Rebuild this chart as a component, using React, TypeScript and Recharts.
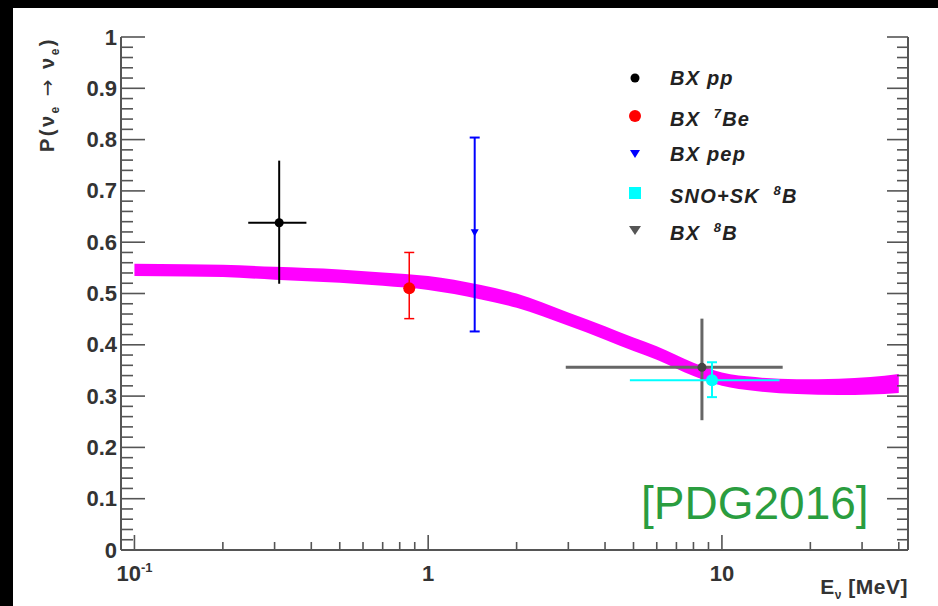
import React from 'react';
import { ComposedChart, Area, Scatter, XAxis, YAxis, ErrorBar } from 'recharts';

// MSW band: survival probability vs neutrino energy
const bandEnergy = [0.1, 0.15, 0.2, 0.3, 0.5, 0.7, 1, 1.5, 2, 3, 4, 5, 6, 8, 10, 13, 18, 25, 32, 40];
const bandLow = [0.534, 0.533, 0.532, 0.527, 0.521, 0.515, 0.507, 0.489, 0.472, 0.437, 0.410, 0.388, 0.371, 0.339, 0.320, 0.310, 0.304, 0.302, 0.303, 0.306];
const bandHigh = [0.558, 0.557, 0.556, 0.552, 0.547, 0.541, 0.534, 0.517, 0.500, 0.463, 0.436, 0.414, 0.397, 0.365, 0.346, 0.337, 0.333, 0.334, 0.337, 0.343];

// measurements: energy, probability, [minus, plus] errors
const ppData = [{ e: 0.311, p: 0.638, eErr: [0.067, 0.074], pErr: [0.119, 0.121] }];
const be7Data = [{ e: 0.862, p: 0.51, pErr: [0.059, 0.07] }];
const pepData = [{ e: 1.44, p: 0.619, pErr: [0.193, 0.185] }];
const b8Data = [{ e: 8.55, p: 0.356, eErr: [5.61, 7.55], pErr: [0.103, 0.095] }];
const snoData = [{ e: 9.25, p: 0.331, eErr: [4.39, 6.45], pErr: [0.033, 0.035] }];

const yMajorTicks = [0, 0.1, 0.2, 0.3, 0.4, 0.5, 0.6, 0.7, 0.8, 0.9, 1];
const yLabels = ['0', '0.1', '0.2', '0.3', '0.4', '0.5', '0.6', '0.7', '0.8', '0.9', '1'];
const yTicks = Array.from({ length: 51 }, (_, i) => Math.round(i * 2) / 100);
const xTicks = [0.1, 0.2, 0.3, 0.4, 0.5, 0.6, 0.7, 0.8, 0.9, 1, 2, 3, 4, 5, 6, 7, 8, 9, 10, 20, 30, 40];
const xMajorTicks = [0.1, 1, 10];

const axisColor = '#555';
const font = '"Liberation Sans", Arial, Helvetica, sans-serif';

const yIndex = (v: number) => yMajorTicks.findIndex((t) => Math.abs(t - v) < 1e-6);
const isXMajor = (v: number) => xMajorTicks.some((t) => Math.abs(t - v) < 1e-9);

const LeftTick = (props: any) => {
  const { x, y, payload } = props;
  const idx = yIndex(payload.value);
  return (
    <g>
      <line x1={x} y1={y} x2={x + (idx >= 0 ? 24 : 12)} y2={y} stroke={axisColor} strokeWidth={1.6} />
      {idx >= 0 && (
        <text x={x - 4} y={y} dy={7.5} textAnchor="end" fontSize={22} fontWeight="bold" fill="#333" fontFamily={font}>
          {yLabels[idx]}
        </text>
      )}
    </g>
  );
};

const RightTick = (props: any) => {
  const { x, y, payload } = props;
  const major = yIndex(payload.value) >= 0;
  return <line x1={x} y1={y} x2={x - (major ? 21 : 11)} y2={y} stroke={axisColor} strokeWidth={1.6} />;
};

const BottomTick = (props: any) => {
  const { x, y, payload } = props;
  const v = payload.value;
  const major = isXMajor(v);
  return (
    <g>
      <line x1={x} y1={y} x2={x} y2={y - (major ? 15 : 8)} stroke={axisColor} strokeWidth={1.6} />
      {major && (
        <text x={x} y={y + 31} textAnchor="middle" fontSize={22} fontWeight="bold" fill="#333" fontFamily={font}>
          {v === 0.1 ? (
            <>
              10<tspan fontSize={13} dy={-9}>-1</tspan>
            </>
          ) : (
            String(v)
          )}
        </text>
      )}
    </g>
  );
};

const TopTick = (props: any) => {
  const { x, y, payload } = props;
  const major = isXMajor(payload.value);
  return <line x1={x} y1={y} x2={x} y2={y + (major ? 15 : 8)} stroke={axisColor} strokeWidth={1.6} />;
};

const dot = (r: number, fill: string) => (p: any) => <circle cx={p.cx} cy={p.cy} r={r} fill={fill} />;
const triDown = (s: number, fill: string) => (p: any) => (
  <polygon points={`${p.cx - s},${p.cy - s * 0.8} ${p.cx + s},${p.cy - s * 0.8} ${p.cx},${p.cy + s}`} fill={fill} />
);
const hidden = () => <g />;

const supStyle = { fontSize: 13 };
const legendItems = [
  { key: 'pp', label: <>BX pp</>, marker: <circle cx={11} cy={11} r={4.5} fill="#000" /> },
  { key: 'be', label: <>BX&nbsp;&nbsp;<sup style={supStyle}>7</sup>Be</>, marker: <circle cx={11} cy={11} r={6} fill="#f00" /> },
  { key: 'pep', label: <>BX pep</>, marker: <polygon points="6,7 16,7 11,15" fill="#00f" /> },
  { key: 'sno', label: <>SNO+SK&nbsp;&nbsp;<sup style={supStyle}>8</sup>B</>, marker: <rect x={5} y={5} width={12} height={12} fill="#0ff" /> },
  { key: 'b8', label: <>BX&nbsp;&nbsp;<sup style={supStyle}>8</sup>B</>, marker: <polygon points="5,7 17,7 11,16" fill="#555" /> },
];
const legendRows = [78, 116, 154, 193, 230];

export default function App() {
  const bandData = bandEnergy.map((e, i) => ({ e, low: bandLow[i], high: bandHigh[i] }));

  return (
    <div style={{ position: 'absolute', left: 0, top: 0, width: 938, height: 606, background: '#000', fontFamily: font }}>
      <div style={{ position: 'absolute', left: 13, top: 8, width: 925, height: 598, background: '#fff' }} />
      <div style={{ position: 'absolute', left: 0, top: 0 }}>
        <ComposedChart width={938} height={606} data={bandData} margin={{ top: 37, right: 0, bottom: 0, left: 0 }}>
          <XAxis
            xAxisId="bottom"
            dataKey="e"
            type="number"
            scale="log"
            domain={[0.09, 43]}
            allowDataOverflow
            ticks={xTicks}
            interval={0}
            height={56}
            tickSize={0}
            tickMargin={0}
            tickLine={false}
            tick={<BottomTick />}
            axisLine={{ stroke: axisColor, strokeWidth: 2 }}
          />
          <XAxis
            xAxisId="top"
            dataKey="e"
            orientation="top"
            type="number"
            scale="log"
            domain={[0.09, 43]}
            allowDataOverflow
            ticks={xTicks}
            interval={0}
            height={0}
            tickSize={0}
            tickMargin={0}
            tickLine={false}
            tick={<TopTick />}
            axisLine={{ stroke: axisColor, strokeWidth: 2 }}
          />
          <YAxis
            yAxisId="left"
            dataKey="p"
            type="number"
            domain={[0, 1]}
            ticks={yTicks}
            interval={0}
            width={121}
            tickSize={0}
            tickMargin={0}
            tickLine={false}
            tick={<LeftTick />}
            axisLine={{ stroke: axisColor, strokeWidth: 2 }}
          />
          <YAxis
            yAxisId="right"
            dataKey="p"
            orientation="right"
            type="number"
            domain={[0, 1]}
            ticks={yTicks}
            interval={0}
            width={30}
            tickSize={0}
            tickMargin={0}
            tickLine={false}
            tick={<RightTick />}
            axisLine={{ stroke: axisColor, strokeWidth: 2 }}
          />
          <Area
            xAxisId="bottom"
            yAxisId="left"
            dataKey={(d: any) => [d.low, d.high]}
            type="monotone"
            stroke="none"
            fill="#ff00ff"
            fillOpacity={1}
            isAnimationActive={false}
            activeDot={false}
          />
          {/* invisible series so the mirrored frame axes get their ticks */}
          <Scatter data={ppData} xAxisId="top" yAxisId="right" shape={hidden} isAnimationActive={false} />
          <Scatter data={ppData} xAxisId="bottom" yAxisId="left" shape={dot(4.5, '#000')} isAnimationActive={false}>
            <ErrorBar dataKey="pErr" direction="y" width={0} stroke="#000" strokeWidth={2} />
            <ErrorBar dataKey="eErr" direction="x" width={0} stroke="#000" strokeWidth={2} />
          </Scatter>
          <Scatter data={be7Data} xAxisId="bottom" yAxisId="left" shape={dot(6, '#f00')} isAnimationActive={false}>
            <ErrorBar dataKey="pErr" direction="y" width={5} stroke="#f00" strokeWidth={1.5} />
          </Scatter>
          <Scatter data={pepData} xAxisId="bottom" yAxisId="left" shape={triDown(4, '#00f')} isAnimationActive={false}>
            <ErrorBar dataKey="pErr" direction="y" width={5} stroke="#00f" strokeWidth={2} />
          </Scatter>
          <Scatter data={b8Data} xAxisId="bottom" yAxisId="left" shape={dot(4.5, '#444')} isAnimationActive={false}>
            <ErrorBar dataKey="pErr" direction="y" width={0} stroke="#666" strokeWidth={3} />
            <ErrorBar dataKey="eErr" direction="x" width={0} stroke="#666" strokeWidth={3} />
          </Scatter>
          <Scatter data={snoData} xAxisId="bottom" yAxisId="left" shape={dot(6, '#0ff')} isAnimationActive={false}>
            <ErrorBar dataKey="pErr" direction="y" width={5} stroke="#0ff" strokeWidth={2} />
            <ErrorBar dataKey="eErr" direction="x" width={0} stroke="#0ff" strokeWidth={2} />
          </Scatter>
        </ComposedChart>
      </div>

      {/* y-axis title */}
      <div
        style={{
          position: 'absolute',
          left: 35,
          top: 165,
          width: 128,
          textAlign: 'right',
          transformOrigin: 'left top',
          transform: 'rotate(-90deg)',
          fontSize: 20,
          fontWeight: 'bold',
          color: '#333',
          lineHeight: '24px',
          letterSpacing: 2.5,
          whiteSpace: 'nowrap',
        }}
      >
        P(ν<sub style={{ fontSize: 12 }}>e</sub>
        <span style={{ fontFamily: '"DejaVu Sans", sans-serif', fontWeight: 'normal', fontSize: 20, margin: '0 8px' }}>→</span>
        ν<sub style={{ fontSize: 12 }}>e</sub>)
      </div>

      {/* x-axis title */}
      <div
        style={{
          position: 'absolute',
          left: 700,
          top: 575,
          width: 208,
          textAlign: 'right',
          fontSize: 21,
          fontWeight: 'bold',
          color: '#333',
          lineHeight: '24px',
          letterSpacing: 0.5,
          whiteSpace: 'nowrap',
        }}
      >
        E<sub style={{ fontSize: 12 }}>ν</sub> [MeV]
      </div>

      {/* PDG tag */}
      <div style={{ position: 'absolute', left: 641, top: 476, fontSize: 46, lineHeight: '54px', color: '#2a9d3f', whiteSpace: 'nowrap' }}>
        [PDG2016]
      </div>

      {/* legend */}
      {legendItems.map((it, i) => (
        <div key={it.key} style={{ position: 'absolute', left: 624, top: legendRows[i] - 12, height: 24, display: 'flex', alignItems: 'center' }}>
          <svg width={22} height={22} style={{ marginRight: 24 }}>
            {it.marker}
          </svg>
          <span style={{ fontSize: 20, fontStyle: 'italic', fontWeight: 'bold', color: '#222', letterSpacing: 1.2, lineHeight: '24px', whiteSpace: 'nowrap' }}>
            {it.label}
          </span>
        </div>
      ))}
    </div>
  );
}
